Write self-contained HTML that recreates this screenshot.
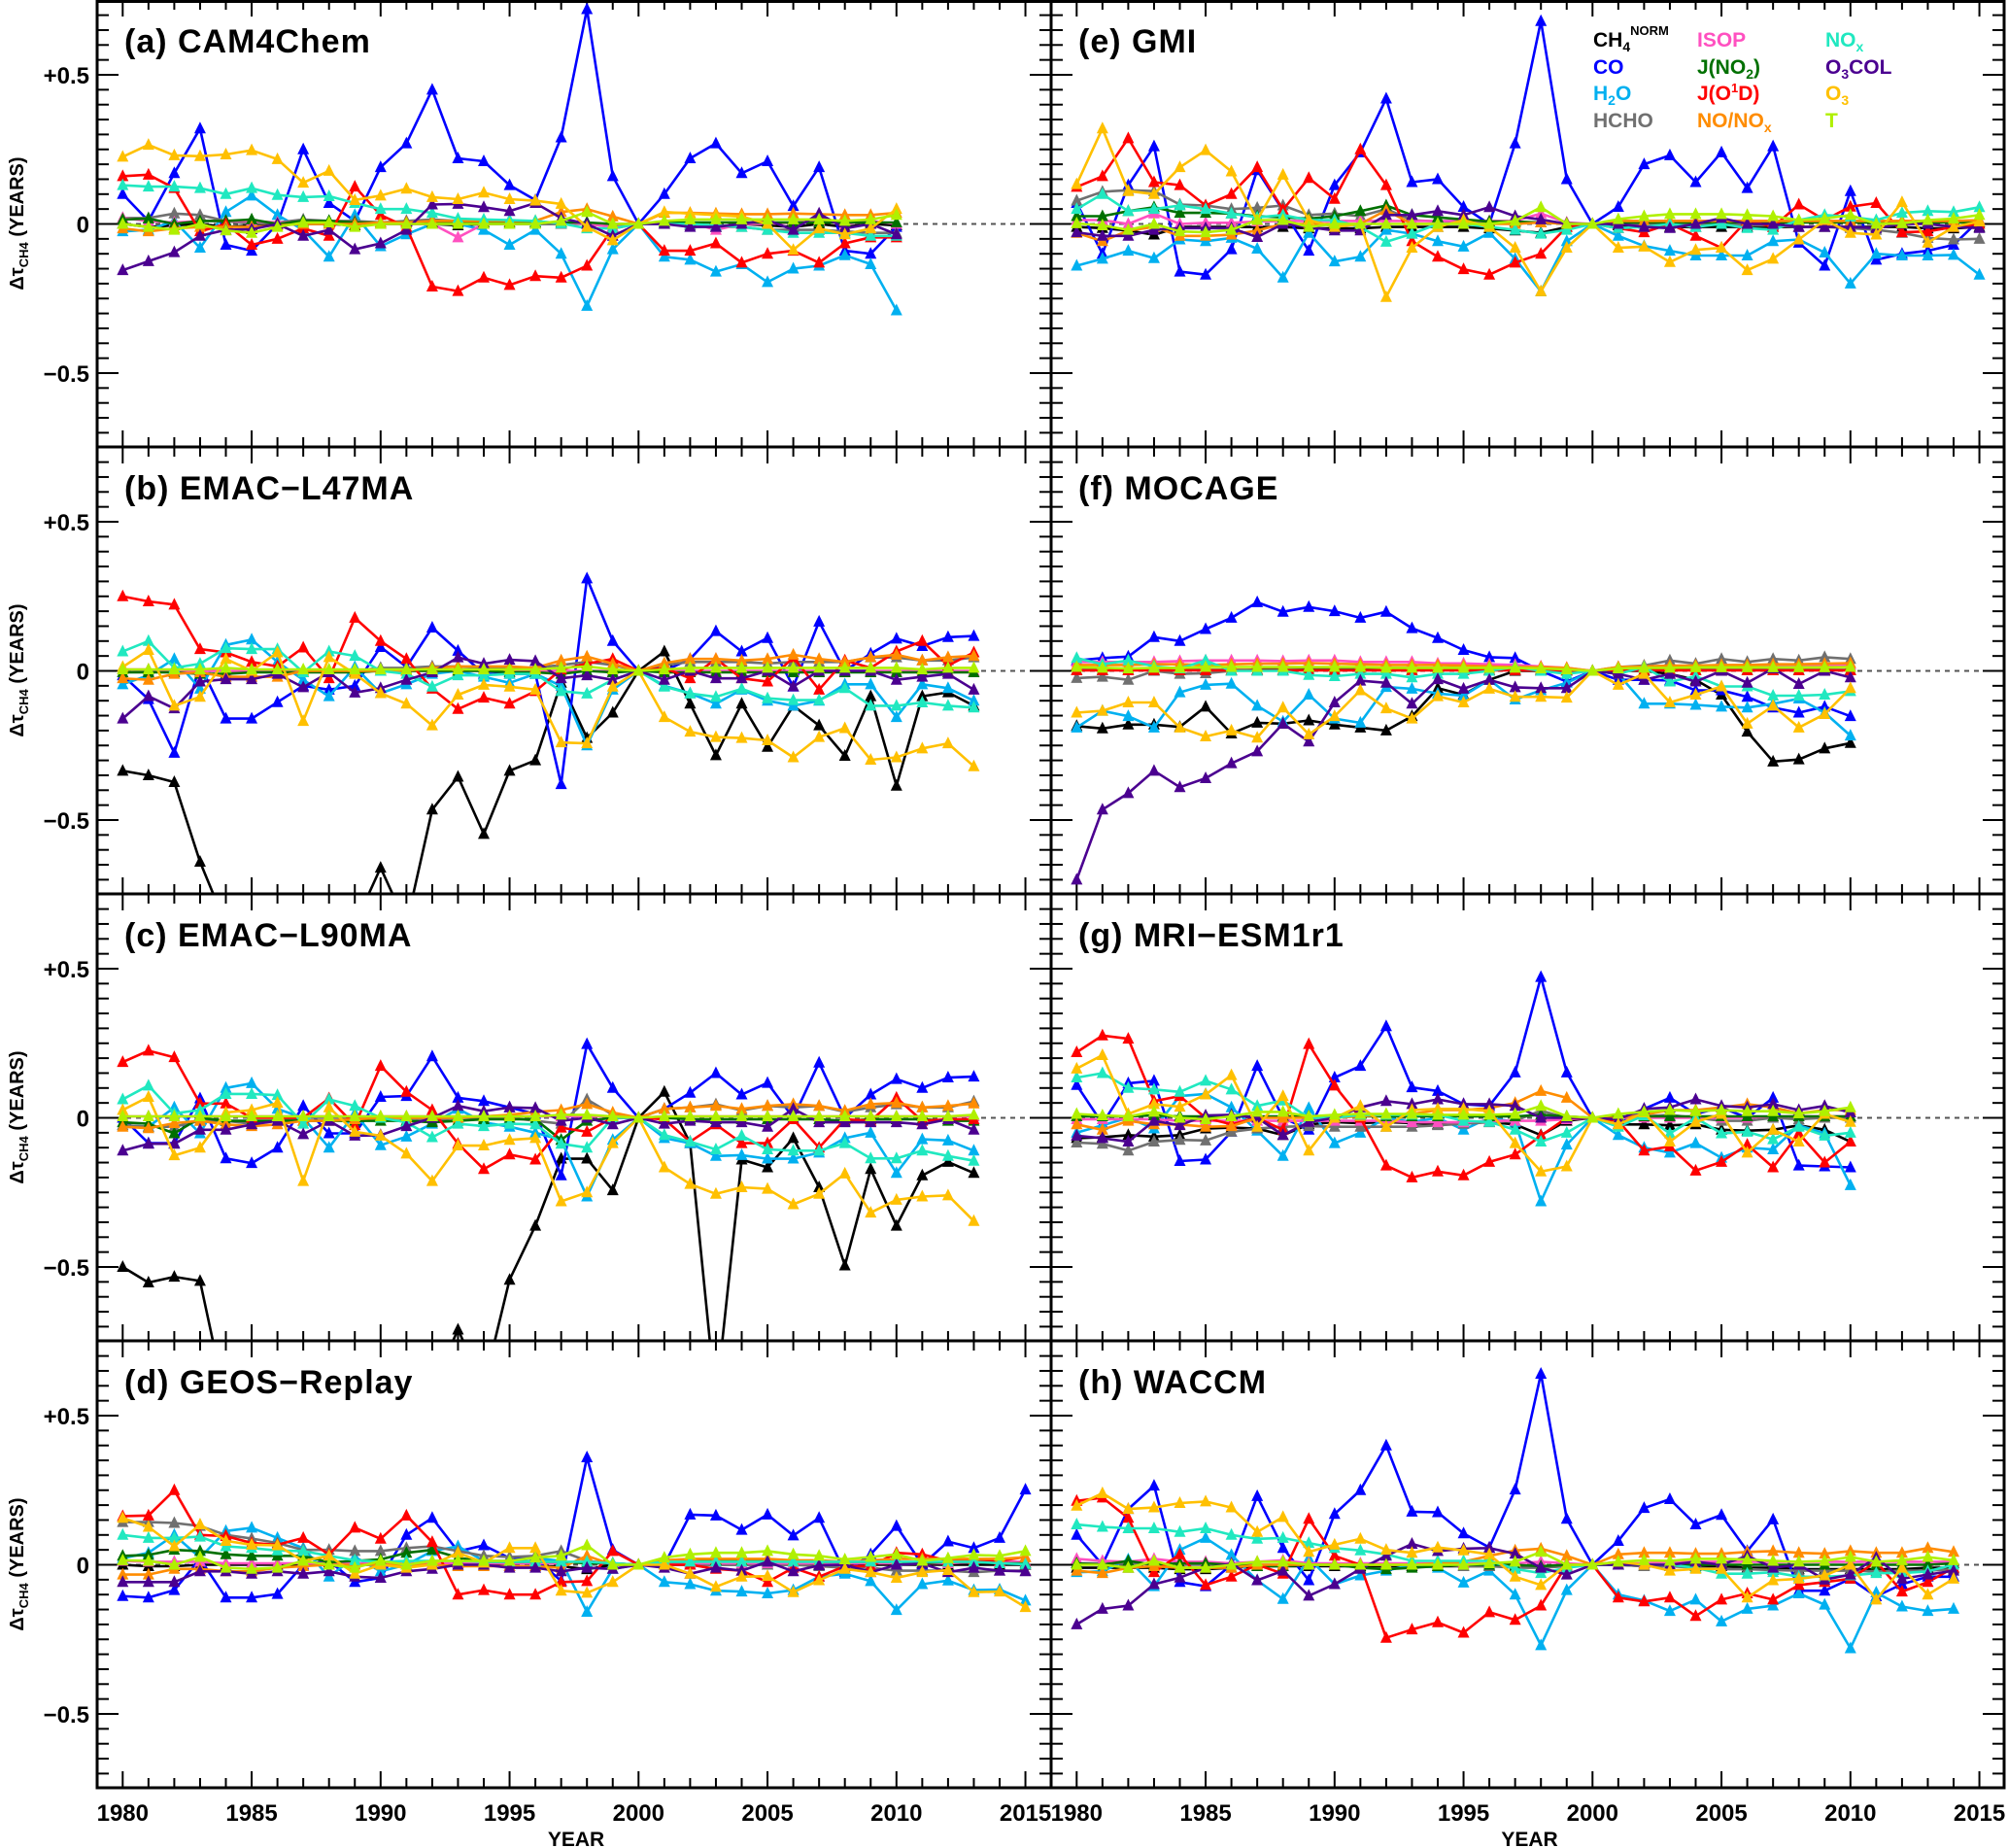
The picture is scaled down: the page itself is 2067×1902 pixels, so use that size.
<!DOCTYPE html>
<html><head><meta charset="utf-8"><title>Delta tau CH4 panels</title>
<style>
html,body{margin:0;padding:0;background:#fff;}
svg{display:block;font-family:"Liberation Sans",Arial,sans-serif;font-weight:bold;}
</style></head>
<body>
<svg id="chart" width="2067" height="1902" viewBox="0 0 2067 1902" xmlns="http://www.w3.org/2000/svg"></svg>
<script>
// ---- Panel (a) CAM4Chem 1980-2010
const a_CH4=[0,-0.01,-0.005,0,-0.01,-0.005,0,0,0,-0.005,0,0,0,-0.005,0,0,0,0,0.005,-0.01,0,0,0,-0.01,0,-0.005,-0.01,0,-0.01,0,-0.005];
const a_CO=[0.10,0.01,0.17,0.32,-0.07,-0.09,0,0.25,0.07,0.01,0.19,0.27,0.45,0.22,0.21,0.13,0.08,0.29,0.72,0.16,0,0.10,0.22,0.27,0.17,0.21,0.06,0.19,-0.09,-0.10,-0.01];
const a_H2O=[-0.025,-0.02,0.01,-0.08,0.04,0.095,0.03,-0.02,-0.11,0.03,-0.075,-0.035,0,0,-0.02,-0.07,-0.02,-0.10,-0.275,-0.085,0,-0.11,-0.12,-0.16,-0.135,-0.195,-0.15,-0.14,-0.105,-0.135,-0.29];
const a_HCHO=[0.02,0.02,0.035,0.03,0.01,0,0.005,0.015,0.01,0.01,0.005,0.01,0.015,0.01,0.005,0,0,0,0,-0.01,0,0,-0.005,-0.01,-0.01,-0.02,-0.02,-0.02,-0.025,-0.03,-0.03];
const a_ISOP=[0.02,0.01,0.005,0.01,0.01,0.01,0.005,0.005,0.005,0.005,0,0,0,-0.045,0,0.005,0.005,0.005,0,-0.01,0,0,0.005,-0.02,0,0,0.005,0.01,0,0.01,0];
const a_JNO2=[0.015,0.018,0,0.01,0.01,0.015,0,0.01,0.01,0.005,0.005,0.005,0.005,0.005,0.005,0.005,0.005,0.005,0.005,0,0,0.005,0.005,0.005,0.005,0.005,0.005,0.005,0.005,0.005,0.005];
const a_JO1D=[0.16,0.165,0.12,-0.025,0,-0.07,-0.05,-0.015,-0.04,0.125,0.03,-0.01,-0.21,-0.225,-0.18,-0.205,-0.175,-0.18,-0.14,-0.015,0,-0.09,-0.09,-0.065,-0.13,-0.10,-0.09,-0.13,-0.065,-0.045,-0.045];
const a_NONOx=[-0.015,-0.025,-0.015,-0.01,-0.01,-0.01,-0.005,0,0,0,0.005,0.005,0.01,0.01,0.01,0.01,0.01,0.04,0.05,0.025,0,0.037,0.037,0.035,0.033,0.033,0.035,0.033,0.03,0.03,0.037];
const a_NOx=[0.13,0.125,0.125,0.12,0.10,0.12,0.097,0.09,0.093,0.07,0.05,0.05,0.037,0.018,0.015,0.013,0.01,0.002,-0.015,-0.015,0,0,0,-0.005,-0.01,-0.02,-0.03,-0.03,-0.03,-0.04,-0.04];
const a_O3COL=[-0.155,-0.125,-0.095,-0.04,-0.02,-0.018,0,-0.04,-0.02,-0.085,-0.065,-0.02,0.065,0.067,0.056,0.043,0.07,0.02,0,-0.04,0,0,-0.01,-0.01,0,0.013,-0.02,0.035,-0.015,0,-0.035];
const a_O3=[0.225,0.265,0.23,0.227,0.233,0.247,0.217,0.138,0.178,0.08,0.095,0.118,0.09,0.083,0.105,0.083,0.078,0.067,-0.01,-0.055,0,0.04,0.035,0.03,0.025,0,-0.087,-0.015,-0.035,-0.015,0.05];
const a_T=[0,-0.01,-0.02,0,-0.022,-0.03,-0.01,0.005,0.005,-0.01,0,0,0,0,0,0,0,0.01,0.04,0,0,0.01,0.015,0.015,0.015,0.015,0.015,0.015,0.01,0.015,0.03];
// ---- Panel (b) EMAC-L47MA 1980-2013
const b_CH4=[-0.335,-0.35,-0.373,-0.64,-0.85,-0.95,-1.0,-1.0,-0.95,-0.85,-0.66,-0.85,-0.465,-0.355,-0.547,-0.335,-0.30,-0.04,-0.225,-0.14,0,0.065,-0.11,-0.283,-0.11,-0.255,-0.117,-0.183,-0.285,-0.085,-0.385,-0.085,-0.072,-0.117];
const b_CO=[-0.015,-0.095,-0.275,0.02,-0.16,-0.16,-0.105,-0.05,-0.063,-0.05,0.08,0.013,0.145,0.067,-0.01,-0.01,-0.01,-0.38,0.31,0.10,0,0,0.04,0.133,0.065,0.11,-0.053,0.165,0,0.058,0.108,0.083,0.113,0.117];
const b_H2O=[-0.045,-0.015,0.04,-0.06,0.087,0.105,0.03,-0.03,-0.085,0.013,-0.075,-0.045,-0.01,0,-0.02,-0.04,-0.01,-0.05,-0.25,-0.063,0,-0.05,-0.075,-0.11,-0.063,-0.10,-0.117,-0.10,-0.045,-0.045,-0.155,-0.045,-0.058,-0.10];
const b_HCHO=[0.005,0,0,0,0,-0.005,0,0,0,0,0.01,0.01,0.015,0.015,0.01,0.01,0.01,0.02,0.03,0.02,0,0.02,0.03,0.03,0.03,0.025,0.03,0.03,0.03,0.045,0.045,0.035,0.035,0.045];
const b_ISOP=[0.005,0.005,0,0,0,0,0,0,0,0,0,0,0,0,0,0,0,0,0,0,0,0,0,0,0,0,0,0,0,0,0,0,0,0];
const b_JNO2=[-0.005,-0.005,-0.005,-0.01,-0.01,-0.005,-0.005,-0.005,-0.005,-0.005,0,0,0,0,0,-0.005,-0.005,-0.01,0,-0.005,0,-0.005,-0.005,-0.005,-0.005,-0.005,-0.005,-0.005,-0.005,-0.005,-0.005,-0.005,-0.005,-0.005];
const b_JO1D=[0.25,0.233,0.222,0.073,0.062,0.03,0.015,0.078,-0.025,0.178,0.10,0.04,-0.06,-0.128,-0.09,-0.11,-0.068,0.005,0.024,0.04,0,0.01,-0.025,0.04,-0.025,-0.036,0.045,-0.063,0.035,0.01,0.065,0.10,0.018,0.062];
const b_NONOx=[-0.025,-0.03,-0.01,-0.005,-0.02,-0.02,-0.02,0,0,0,0,0,0.01,0.015,0.015,0.015,0.01,0.035,0.048,0.024,0,0.026,0.04,0.04,0.035,0.04,0.054,0.04,0.03,0.046,0.054,0.035,0.046,0.05];
const b_NOx=[0.065,0.10,0.01,0.024,0.076,0.073,0.073,-0.005,0.065,0.05,0,-0.01,-0.053,-0.015,-0.015,-0.01,-0.01,-0.068,-0.076,-0.03,0,-0.053,-0.076,-0.087,-0.06,-0.092,-0.098,-0.098,-0.058,-0.117,-0.117,-0.106,-0.117,-0.123];
const b_O3COL=[-0.16,-0.085,-0.126,-0.036,-0.028,-0.028,-0.01,-0.055,-0.005,-0.073,-0.058,-0.03,-0.005,0.045,0.024,0.037,0.033,-0.025,-0.015,-0.03,0,-0.03,0,-0.025,-0.025,0,-0.052,0,0,0,-0.03,-0.02,-0.01,-0.063];
const b_O3=[0.013,0.07,-0.117,-0.087,0.04,0,0.062,-0.168,0.046,-0.01,-0.075,-0.11,-0.183,-0.08,-0.047,-0.053,-0.063,-0.24,-0.243,-0.053,0,-0.155,-0.204,-0.222,-0.225,-0.233,-0.29,-0.222,-0.192,-0.298,-0.29,-0.26,-0.243,-0.32];
const b_T=[0.005,0.005,0.005,0.005,0.01,0.005,0.005,0.005,0.005,0.005,0.005,0.005,0.005,0.005,0.005,0.005,0.005,0.01,0.015,0.005,0,0.005,0.01,0.01,0.01,0.01,0.01,0.01,0.01,0.01,0.01,0.005,0.01,0.01];
// ---- Panel (c) EMAC-L90MA 1980-2013
const c_CH4=[-0.50,-0.552,-0.533,-0.547,-0.95,-1.0,-1.0,-1.0,-1.0,-1.0,-1.0,-1.0,-0.9,-0.71,-0.9,-0.543,-0.362,-0.137,-0.137,-0.243,0,0.087,-0.085,-0.95,-0.14,-0.166,-0.068,-0.233,-0.495,-0.172,-0.362,-0.193,-0.148,-0.185];
const c_CO=[0,-0.085,-0.085,0.065,-0.136,-0.152,-0.10,0.04,-0.052,-0.052,0.07,0.073,0.206,0.067,0.056,0.035,0.013,-0.193,0.247,0.10,0,0.03,0.084,0.15,0.078,0.117,0,0.185,0,0.078,0.13,0.10,0.135,0.138];
const c_H2O=[-0.025,-0.03,0.035,-0.052,0.10,0.116,0.03,0,-0.10,0.015,-0.092,-0.063,-0.02,0.03,-0.015,-0.03,-0.05,-0.074,-0.264,-0.074,0,-0.068,-0.085,-0.128,-0.125,-0.137,-0.137,-0.117,-0.068,-0.05,-0.185,-0.072,-0.076,-0.11];
const c_HCHO=[-0.025,-0.03,-0.03,-0.01,-0.01,-0.02,-0.01,0,0,0,0,0,-0.01,0,0,0,-0.01,-0.02,0.062,0.01,0,0.03,0.035,0.045,0.025,0.04,0.035,0.04,0.02,0.035,0.045,0.035,0.035,0.055];
const c_ISOP=[0.005,0.005,0.005,0.005,0.005,0.005,0.005,0.005,0.005,0.005,0.005,0.005,0.005,0.005,0.005,0.005,0.005,0.005,0.005,0.005,0,0.005,0.005,0.005,0.005,0.005,0.005,0.005,0.005,0.005,0.005,0.005,0.005,0.005];
const c_JNO2=[-0.015,-0.02,-0.052,0,-0.01,-0.01,-0.01,-0.01,-0.01,-0.01,-0.01,-0.01,-0.015,-0.01,-0.005,-0.005,-0.005,-0.074,-0.01,0,0,0,-0.005,-0.005,-0.005,-0.005,-0.005,-0.005,-0.01,-0.005,-0.005,-0.005,-0.01,-0.01];
const c_JO1D=[0.187,0.225,0.203,0.048,0.048,0,0,0,0.065,-0.025,0.174,0.087,0.026,-0.087,-0.172,-0.123,-0.14,-0.033,-0.047,0,0,-0.005,-0.08,-0.022,-0.085,-0.085,-0.005,-0.10,-0.005,-0.01,0.067,-0.01,-0.005,-0.005];
const c_NONOx=[-0.03,-0.035,-0.018,-0.01,-0.022,-0.028,-0.022,-0.01,-0.01,-0.005,0,0,0,0,0.005,0.01,0.02,0.026,0.046,0.018,0,0.03,0.035,0.04,0.03,0.04,0.046,0.04,0.024,0.046,0.05,0.035,0.04,0.048];
const c_NOx=[0.062,0.108,0.015,0.026,0.08,0.08,0.076,-0.02,0.062,0.04,0,-0.015,-0.065,-0.02,-0.028,-0.02,-0.022,-0.087,-0.10,0,0,-0.058,-0.08,-0.106,-0.06,-0.106,-0.11,-0.11,-0.085,-0.136,-0.136,-0.11,-0.128,-0.144];
const c_O3COL=[-0.11,-0.087,-0.087,-0.04,-0.04,-0.022,-0.01,-0.055,-0.01,-0.06,-0.058,-0.028,0,0.04,0.022,0.035,0.033,-0.01,0,-0.022,0,-0.02,-0.01,-0.015,-0.015,-0.03,0.03,-0.015,-0.015,-0.015,-0.015,-0.022,-0.005,-0.04];
const c_O3=[0.026,0.07,-0.126,-0.10,0.018,0.026,0.05,-0.212,0.035,-0.047,-0.06,-0.12,-0.212,-0.093,-0.093,-0.074,-0.068,-0.28,-0.25,-0.085,0,-0.166,-0.222,-0.255,-0.233,-0.238,-0.29,-0.255,-0.187,-0.318,-0.275,-0.264,-0.26,-0.346];
const c_T=[0.005,0.005,0.005,0.005,0.005,0.005,0.005,0.005,0.005,0.005,0.005,0.005,0.005,0.005,0.005,0.005,0.005,0.01,0.01,0.005,0,0.005,0.005,0.005,0.005,0.005,0.005,0.005,0.005,0.005,0.005,0.005,0.005,0.01];
// ---- Panel (d) GEOS-Replay 1980-2015
const d_CH4=[0,-0.005,-0.005,0,0,0,0,0,0,0,0,0,0,0.005,0,-0.005,-0.005,-0.005,-0.015,0,0,0,0,0,0,0,0,0,0,0,0,0,0,0,0,0];
const d_CO=[-0.105,-0.11,-0.085,0.02,-0.11,-0.11,-0.098,0,0.013,-0.058,-0.044,0.10,0.157,0.045,0.065,0.022,0.022,-0.054,0.36,0.05,0,0,0.168,0.165,0.117,0.168,0.098,0.157,-0.025,0.035,0.13,0,0.078,0.056,0.09,0.252];
const d_H2O=[0.022,0.04,0.10,0.024,0.113,0.124,0.09,0.056,-0.04,0.026,-0.022,0,0.046,0.062,0.013,0.013,0.022,0.013,-0.158,-0.014,0,-0.058,-0.065,-0.087,-0.09,-0.096,-0.085,-0.04,-0.03,-0.055,-0.152,-0.065,-0.053,-0.085,-0.083,-0.12];
const d_HCHO=[0.143,0.143,0.14,0.13,0.10,0.088,0.073,0.05,0.05,0.046,0.046,0.056,0.062,0.046,0.03,0.026,0.03,0.046,0.013,0.004,0,0,0,0,0,0,0,-0.005,-0.01,-0.01,-0.02,-0.02,-0.02,-0.025,-0.02,-0.02];
const d_ISOP=[0.013,0.01,0.01,0.01,0.005,0.005,0.005,0.005,0.005,0.005,0.005,0.005,0.005,0.005,0.005,0.005,0.005,0.005,0.01,0.005,0,0.005,0.005,0.005,0.005,0.005,0.005,0.005,0.005,0.005,0.005,0.005,0.005,0.01,0.01,0.01];
const d_JNO2=[0.03,0.033,0.05,0.046,0.035,0.03,0.03,0.03,0.008,0.013,0.018,0.04,0.05,0.024,0.01,0.01,0.01,0.01,0.005,0.005,0,0.01,0.01,0.015,0.015,0.015,0.015,0.01,0.01,0.01,0.01,0.005,0.01,0.01,0.005,0.005];
const d_JO1D=[0.163,0.165,0.25,0.10,0.096,0.073,0.067,0.09,0.035,0.124,0.087,0.165,0.076,-0.10,-0.085,-0.10,-0.10,-0.058,-0.055,0.046,0,0,0,-0.014,-0.02,-0.058,-0.01,-0.04,-0.005,-0.005,0.04,0.035,0.013,0.018,0.013,0.026];
const d_NONOx=[-0.033,-0.033,-0.014,-0.014,-0.022,-0.022,-0.01,-0.005,0,0,0,0,0,-0.005,-0.005,-0.005,-0.005,-0.01,0.03,0,0,0.015,0.02,0.02,0.02,0.02,0.015,0.015,0.01,0.015,0.02,0.02,0.02,0.02,0.02,0.025];
const d_NOx=[0.10,0.09,0.09,0.094,0.062,0.056,0.048,0.046,0.03,0.015,0.01,0.013,0.013,0.013,0.01,0.01,0.01,0.01,0.01,0.005,0,0.01,0.01,0.01,0.01,0.01,0.01,0.01,0.01,0.01,0.01,0.01,0.01,0.01,0.005,0.002];
const d_O3COL=[-0.058,-0.058,-0.058,-0.022,-0.022,-0.03,-0.022,-0.03,-0.022,-0.04,-0.044,-0.022,-0.014,0,0,-0.01,-0.01,-0.022,-0.01,-0.014,0,-0.01,-0.03,-0.01,-0.02,0.01,-0.022,-0.002,0,-0.025,0,0.004,-0.025,-0.01,-0.02,-0.022];
const d_O3=[0.157,0.127,0.062,0.135,0.08,0.067,0.065,0.013,0.03,-0.03,0,-0.01,0,0.04,0.007,0.056,0.056,-0.087,-0.094,-0.058,0,0,-0.03,-0.074,-0.04,-0.038,-0.092,-0.052,-0.014,-0.025,-0.044,-0.025,-0.018,-0.092,-0.09,-0.142];
const d_T=[0.015,0.013,0,0.026,-0.01,-0.014,-0.01,0.013,0,-0.01,0.013,0,0.013,0.013,0.013,0.013,0.024,0.03,0.065,0,0,0.024,0.035,0.04,0.04,0.046,0.035,0.03,0.018,0.026,0.035,0.013,0.022,0.033,0.03,0.046];
// ---- Panel (e) GMI 1980-2015
const e_CH4=[-0.01,-0.014,-0.022,-0.036,-0.01,-0.01,-0.01,-0.01,-0.01,-0.015,-0.015,-0.015,-0.01,-0.01,-0.01,-0.01,-0.015,-0.022,-0.03,-0.01,0,-0.005,-0.01,-0.01,-0.01,-0.01,-0.01,-0.01,-0.01,-0.01,-0.01,-0.01,-0.01,-0.015,-0.015,-0.01];
const e_CO=[0.07,-0.10,0.13,0.26,-0.16,-0.17,-0.085,0.18,0.045,-0.09,0.13,0.24,0.42,0.14,0.15,0.057,0,0.27,0.68,0.15,0,0.057,0.20,0.23,0.14,0.24,0.12,0.26,-0.063,-0.14,0.11,-0.12,-0.10,-0.09,-0.07,0.013];
const e_H2O=[-0.14,-0.117,-0.09,-0.115,-0.052,-0.058,-0.047,-0.083,-0.18,-0.03,-0.126,-0.11,-0.02,-0.033,-0.058,-0.076,-0.03,-0.117,-0.226,-0.058,0,-0.04,-0.074,-0.09,-0.106,-0.106,-0.106,-0.058,-0.052,-0.096,-0.2,-0.10,-0.106,-0.106,-0.104,-0.17];
const e_HCHO=[0.078,0.108,0.113,0.11,0.065,0.062,0.05,0.054,0.062,0.03,0.035,0.026,0.05,0.013,0.008,0.005,0.005,0.005,0.005,0,0,0,0,0,0,0,-0.005,-0.005,-0.01,-0.01,-0.014,-0.02,-0.03,-0.047,-0.052,-0.05];
const e_ISOP=[0.013,0.013,0,0.035,0,0.004,0.004,0.008,0.01,0.01,0.01,0.01,0.01,0.01,0.01,0.01,0.01,0.01,0.035,0.005,0,0.01,0.01,0.01,0.01,0.01,0.01,0.01,0.01,0.01,0.01,0.01,0.01,0.01,0.01,0.01];
const e_JNO2=[0.026,0.026,0.043,0.056,0.037,0.037,0.035,0.026,0.022,0.018,0.026,0.043,0.062,0.03,0.022,0.015,0.008,0.008,0.005,0.002,0,0.005,0.005,0.005,0.005,0.005,0.005,0.005,0.005,0.005,0.005,0.005,0.005,0.005,0.005,0.005];
const e_JO1D=[0.124,0.16,0.287,0.14,0.13,0.062,0.10,0.19,0.048,0.154,0.084,0.25,0.13,-0.058,-0.11,-0.152,-0.17,-0.13,-0.10,-0.01,0,-0.014,-0.028,0,-0.04,-0.08,0.013,-0.01,0.065,0.013,0.058,0.07,-0.028,-0.025,-0.01,0];
const e_NONOx=[-0.03,-0.058,-0.022,-0.01,-0.04,-0.04,-0.036,-0.022,0,0,0,0,0.046,0,0,0,0,0,0.005,0,0,0.01,0.01,0.01,0.01,0.01,0.01,0.01,0.01,0.01,0.01,0.01,0.01,0.01,0.01,0.013];
const e_NOx=[0.05,0.10,0.043,0.05,0.062,0.05,0.035,0.022,0.03,0.013,0.013,-0.01,-0.06,-0.033,0,0,-0.01,-0.02,-0.033,-0.02,0,-0.014,-0.01,0,-0.01,0,-0.014,-0.02,0.013,0.03,0.024,0.013,0.037,0.043,0.04,0.056];
const e_O3COL=[-0.028,-0.04,-0.04,-0.02,-0.014,-0.014,-0.014,-0.044,0,-0.01,-0.022,-0.022,0.03,0.03,0.043,0.03,0.056,0.026,0.015,0,0,0,-0.01,-0.014,0,0.02,0,0,-0.01,-0.01,-0.01,-0.014,0,0,-0.01,-0.014];
const e_O3=[0.133,0.32,0.11,0.10,0.19,0.247,0.176,0.013,0.165,0.013,-0.01,0,-0.245,-0.08,-0.01,0.013,-0.01,-0.08,-0.226,-0.08,0,-0.08,-0.076,-0.128,-0.087,-0.08,-0.155,-0.117,-0.052,0.013,-0.03,-0.036,0.073,-0.063,-0.01,0.008];
const e_T=[0.002,-0.005,-0.02,0,-0.025,-0.028,-0.02,0.013,0.013,-0.01,0,0,0,0,0,0,0,0.01,0.056,0,0,0.016,0.026,0.033,0.033,0.033,0.03,0.026,0.013,0.018,0.03,0,0.002,0.013,0.018,0.03];
// ---- Panel (f) MOCAGE 1980-2010
const f_CH4=[-0.185,-0.193,-0.18,-0.18,-0.188,-0.12,-0.21,-0.174,-0.177,-0.166,-0.18,-0.19,-0.20,-0.152,-0.058,-0.08,-0.03,0,0,0,0,0,0,-0.01,-0.03,-0.08,-0.204,-0.304,-0.297,-0.26,-0.242];
const f_CO=[0.035,0.043,0.048,0.113,0.10,0.14,0.178,0.23,0.198,0.214,0.20,0.178,0.198,0.143,0.11,0.07,0.046,0.043,0,-0.036,0,-0.03,-0.03,-0.032,-0.065,-0.065,-0.087,-0.123,-0.14,-0.12,-0.152];
const f_H2O=[-0.19,-0.134,-0.152,-0.19,-0.072,-0.047,-0.043,-0.117,-0.17,-0.08,-0.16,-0.174,-0.054,-0.06,-0.076,-0.083,-0.03,-0.096,-0.065,-0.04,0,-0.01,-0.11,-0.11,-0.114,-0.12,-0.123,-0.11,-0.093,-0.14,-0.217];
const f_HCHO=[-0.024,-0.02,-0.03,0,-0.01,-0.008,0,0.004,0.013,0.01,0.01,0.01,0.01,0.01,0.01,0.01,0.01,0.005,0.005,0,0,0.013,0.018,0.035,0.024,0.04,0.03,0.04,0.035,0.046,0.04];
const f_ISOP=[0.03,0.03,0.03,0.03,0.033,0.035,0.035,0.035,0.033,0.035,0.035,0.03,0.03,0.03,0.025,0.025,0.022,0.02,0.015,0.01,0,0.01,0.01,0.015,0.015,0.015,0.015,0.015,0.015,0.018,0.02];
const f_JNO2=[0.003,0.003,0.003,0.003,0.003,0.003,0.003,0.003,0.003,0.003,0.003,0.003,0.003,0.003,0.003,0.003,0.003,0.003,0.003,0.003,0,0.003,0.003,0.003,0.003,0.003,0.003,0.003,0.003,0.003,0.003];
const f_JO1D=[0.002,0.002,0.002,0.002,0.002,0.002,0.002,0.002,0.002,0.002,0.002,0.002,0.002,0.002,0.002,0.002,0.002,0.002,0.002,0.002,0,0.002,0.002,0.002,0.002,0.002,0.002,0.002,0.002,0.002,0.002];
const f_NONOx=[0.02,0.02,0.02,0.022,0.022,0.02,0.022,0.024,0.024,0.026,0.024,0.022,0.02,0.02,0.02,0.018,0.015,0.013,0.013,0.01,0,0.013,0.015,0.018,0.018,0.02,0.02,0.022,0.022,0.024,0.026];
const f_NOx=[0.043,0.022,0.035,0.015,0.008,0.035,0,0,0,-0.014,-0.018,-0.01,-0.01,-0.022,-0.01,-0.01,0,0.013,0,-0.01,0,-0.01,0.013,-0.036,-0.018,-0.052,-0.052,-0.083,-0.083,-0.08,-0.068];
const f_O3COL=[-0.70,-0.465,-0.41,-0.335,-0.39,-0.36,-0.31,-0.27,-0.177,-0.237,-0.106,-0.033,-0.04,-0.11,-0.028,-0.06,-0.03,-0.055,-0.058,-0.058,0,-0.01,-0.03,-0.01,-0.036,0,-0.04,0.008,-0.044,0,-0.022];
const f_O3=[-0.14,-0.134,-0.106,-0.106,-0.19,-0.22,-0.20,-0.224,-0.123,-0.213,-0.152,-0.065,-0.126,-0.16,-0.085,-0.106,-0.06,-0.087,-0.087,-0.09,0,-0.047,-0.01,-0.106,-0.08,-0.052,-0.177,-0.117,-0.19,-0.145,-0.058];
const f_T=[0.013,0.01,0.008,0.01,0.01,0.013,0.013,0.013,0.013,0.013,0.013,0.013,0.01,0.01,0.01,0.01,0.01,0.01,0.008,0.005,0,0.008,0.01,0.01,0.012,0.012,0.012,0.012,0.012,0.012,0.013];
// ---- Panel (g) MRI-ESM1r1 1980-2010
const g_CH4=[-0.068,-0.065,-0.058,-0.063,-0.058,-0.036,-0.033,-0.036,-0.058,-0.022,-0.014,-0.018,-0.014,-0.018,-0.022,-0.014,-0.014,-0.022,-0.058,-0.01,0,-0.022,-0.022,-0.025,-0.022,-0.04,-0.043,-0.04,-0.025,-0.04,-0.08];
const g_CO=[0.11,-0.02,0.116,0.124,-0.145,-0.14,-0.047,0.174,0,-0.04,0.135,0.174,0.307,0.102,0.09,0.046,0.04,0.152,0.472,0.152,0,-0.022,0.03,0.067,0.013,0.035,0,0.067,-0.16,-0.163,-0.166];
const g_H2O=[-0.05,-0.025,0,-0.036,0.073,0.08,0.035,-0.043,-0.128,0.033,-0.085,-0.05,0,-0.014,0,-0.04,0,-0.014,-0.28,-0.09,0,-0.058,-0.10,-0.117,-0.085,-0.134,-0.10,-0.106,-0.025,-0.052,-0.226];
const g_HCHO=[-0.083,-0.087,-0.11,-0.08,-0.074,-0.076,-0.047,-0.036,-0.03,-0.028,-0.03,-0.03,-0.03,-0.03,-0.025,-0.02,-0.015,-0.01,0.024,0,0,0,0.005,0.01,0,-0.01,-0.01,0,-0.005,0,0];
const g_ISOP=[-0.005,-0.005,-0.005,-0.005,-0.01,-0.01,-0.01,-0.01,-0.01,-0.01,-0.01,-0.01,-0.01,-0.015,-0.015,-0.015,-0.01,-0.01,-0.01,-0.005,0,0,0,0,0,0,0,0.005,0.005,0.005,0.005];
const g_JNO2=[0.005,0.005,0.005,0.008,0.005,0.005,0.005,0.005,0.005,0.005,0.005,0.005,0.005,0.005,0.005,0.005,0.005,0.005,0.01,0.005,0,0.005,0.005,0.005,0.005,0.005,0.005,0.005,0.005,0.005,0.005];
const g_JO1D=[0.22,0.276,0.265,0.056,0.073,0,-0.022,0,-0.04,0.247,0.108,0,-0.16,-0.2,-0.18,-0.193,-0.148,-0.123,-0.06,0,0,-0.01,-0.11,-0.096,-0.177,-0.148,-0.09,-0.166,-0.052,-0.15,-0.08];
const g_NONOx=[-0.022,-0.04,-0.01,-0.022,-0.022,-0.03,-0.028,0,0,0,0,0.005,0.01,0.013,0.026,0.026,0.033,0.05,0.09,0.067,0,0,0.01,0.026,0.026,0.035,0.046,0.035,0.015,0.026,0.026];
const g_NOx=[0.135,0.15,0.10,0.095,0.087,0.124,0.095,0.04,0.058,0,0,0.01,0.01,0.01,0.01,-0.01,-0.014,-0.04,-0.08,-0.05,0,-0.03,0.008,-0.052,0,-0.052,-0.047,-0.072,-0.03,-0.06,-0.05];
const g_O3COL=[-0.06,-0.068,-0.08,-0.01,-0.025,0.008,0.01,0,-0.058,-0.014,0,0.035,0.056,0.046,0.062,0.046,0.046,0.04,0,0,0,-0.005,0.03,0.035,0.062,0.04,0.035,0.046,0.026,0.04,0.018];
const g_O3=[0.165,0.21,0.013,0.046,0.037,0.078,0.143,-0.03,0.073,-0.11,0,0.04,-0.03,0.026,0.03,0.03,0.022,-0.085,-0.18,-0.163,0,-0.022,0.018,-0.08,-0.014,0.013,-0.117,-0.04,-0.08,0.013,-0.014];
const g_T=[0.013,0.008,0.005,0.02,0,-0.005,0.005,0.02,0.02,0.005,0.01,0.013,0.013,0.013,0.01,0.01,0.01,0.013,0.04,0.005,0,0.013,0.02,0.026,0.022,0.026,0.022,0.022,0.015,0.022,0.035];
// ---- Panel (h) WACCM 1980-2014
const h_CH4=[-0.01,-0.01,-0.01,-0.01,-0.015,-0.015,-0.01,-0.005,-0.005,-0.005,-0.005,-0.005,-0.005,-0.005,-0.005,-0.005,-0.005,-0.005,-0.005,0,0,0,-0.005,-0.005,-0.005,-0.005,-0.01,-0.01,-0.015,-0.015,-0.015,-0.015,-0.015,-0.01,-0.01];
const h_CO=[0.10,0,0.187,0.265,-0.058,-0.072,0,0.23,0.056,-0.052,0.17,0.25,0.40,0.178,0.176,0.105,0.058,0.252,0.64,0.154,0,0.08,0.19,0.22,0.135,0.167,0.046,0.152,-0.087,-0.087,-0.047,-0.106,-0.065,-0.04,-0.04];
const h_H2O=[-0.025,-0.022,0.018,-0.072,0.05,0.09,0.033,-0.052,-0.115,0.022,-0.065,-0.036,-0.02,0,-0.01,-0.06,-0.02,-0.10,-0.27,-0.085,0,-0.10,-0.12,-0.155,-0.117,-0.19,-0.148,-0.137,-0.096,-0.134,-0.28,-0.093,-0.14,-0.155,-0.148];
const h_HCHO=[0.005,0.005,0.005,0,0,0,0,0,0,0,0,0,0,0,0,-0.005,-0.005,-0.01,-0.01,-0.005,0,0,-0.005,-0.005,-0.01,-0.015,-0.015,-0.018,-0.02,-0.02,-0.02,-0.022,-0.02,-0.02,-0.015];
const h_ISOP=[0.02,0.013,0.01,0.02,0.01,0.01,0.005,0.01,0.015,0.005,0.005,0.005,0.005,0.005,0.005,0.005,0.005,0.005,0.01,0.005,0,0.005,0.005,0.01,0.01,0.01,0.01,0.01,0.01,0.01,0.01,0.01,0.01,0.01,0.01];
const h_JNO2=[0.005,0,0.013,0,0.005,0.005,0,-0.005,-0.005,0,0,-0.01,-0.015,-0.01,-0.005,0,0,0,-0.005,0,0,0,0,0,0,0,0,0,0,0,0,0,0,0,0.005];
const h_JO1D=[0.214,0.225,0.157,-0.025,0.035,-0.068,-0.04,0,-0.03,0.154,0.03,0,-0.245,-0.217,-0.193,-0.228,-0.159,-0.185,-0.137,0,0,-0.11,-0.123,-0.11,-0.172,-0.117,-0.096,-0.117,-0.068,-0.058,-0.047,0.01,-0.09,-0.058,-0.01];
const h_NONOx=[-0.02,-0.028,-0.01,-0.005,-0.01,-0.01,-0.01,0,0,0,0,0,0,0,0.005,0.01,0.03,0.048,0.054,0.03,0,0.035,0.04,0.04,0.037,0.037,0.043,0.046,0.04,0.037,0.046,0.04,0.04,0.056,0.043];
const h_NOx=[0.135,0.127,0.122,0.122,0.11,0.122,0.1,0.087,0.09,0.073,0.056,0.048,0.035,0.013,0.013,0.013,0.013,-0.014,-0.028,-0.01,0,0,0,0,-0.01,-0.03,-0.03,-0.025,-0.04,-0.04,-0.036,-0.028,-0.028,-0.022,0];
const h_O3COL=[-0.2,-0.148,-0.137,-0.065,-0.043,-0.01,0.004,-0.052,-0.02,-0.104,-0.065,-0.014,0.03,0.07,0.046,0.054,0.056,0.037,-0.01,-0.033,0,0,0,0,0.01,0,0.03,-0.01,0,-0.05,-0.033,0.024,-0.047,-0.033,-0.02];
const h_O3=[0.198,0.24,0.187,0.192,0.207,0.212,0.192,0.11,0.16,0.043,0.067,0.087,0.05,0.04,0.058,0.048,0.035,-0.04,-0.068,0,0,0.01,0,-0.02,-0.014,-0.014,-0.11,-0.052,-0.047,-0.036,0,-0.117,-0.01,-0.10,-0.047];
const h_T=[0,0,-0.01,0.013,-0.01,-0.01,0,0.01,0.01,0,0,0,0,0,0,0,0.005,0.01,0.043,0,0,0.01,0.015,0.013,0.02,0.02,0.018,0.013,0.01,0.013,0.026,0.01,0.015,0.026,0.015];

const yearTicks=[1980,1985,1990,1995,2000,2005,2010,2015];
const yTickValues=[0.5,0,-0.5];
const yTickLabels=["+0.5","0","\u22120.5"];
const firstYear=1980;

const SERIES=[
 {k:'CH4',c:'#000000'},{k:'CO',c:'#0000ff'},{k:'H2O',c:'#00b0f0'},{k:'HCHO',c:'#707070'},
 {k:'ISOP',c:'#ff50c0'},{k:'JNO2',c:'#007000'},{k:'JO1D',c:'#ff0000'},{k:'NONOx',c:'#ff8c00'},
 {k:'NOx',c:'#20e8c0'},{k:'O3COL',c:'#4b0090'},{k:'O3',c:'#ffc000'},{k:'T',c:'#b0f000'}];
const PANELS=[
 {id:'a',label:'(a) CAM4Chem',col:0,row:0,d:{CH4:a_CH4,CO:a_CO,H2O:a_H2O,HCHO:a_HCHO,ISOP:a_ISOP,JNO2:a_JNO2,JO1D:a_JO1D,NONOx:a_NONOx,NOx:a_NOx,O3COL:a_O3COL,O3:a_O3,T:a_T}},
 {id:'b',label:'(b) EMAC\u2212L47MA',col:0,row:1,d:{CH4:b_CH4,CO:b_CO,H2O:b_H2O,HCHO:b_HCHO,ISOP:b_ISOP,JNO2:b_JNO2,JO1D:b_JO1D,NONOx:b_NONOx,NOx:b_NOx,O3COL:b_O3COL,O3:b_O3,T:b_T}},
 {id:'c',label:'(c) EMAC\u2212L90MA',col:0,row:2,d:{CH4:c_CH4,CO:c_CO,H2O:c_H2O,HCHO:c_HCHO,ISOP:c_ISOP,JNO2:c_JNO2,JO1D:c_JO1D,NONOx:c_NONOx,NOx:c_NOx,O3COL:c_O3COL,O3:c_O3,T:c_T}},
 {id:'d',label:'(d) GEOS\u2212Replay',col:0,row:3,d:{CH4:d_CH4,CO:d_CO,H2O:d_H2O,HCHO:d_HCHO,ISOP:d_ISOP,JNO2:d_JNO2,JO1D:d_JO1D,NONOx:d_NONOx,NOx:d_NOx,O3COL:d_O3COL,O3:d_O3,T:d_T}},
 {id:'e',label:'(e) GMI',col:1,row:0,d:{CH4:e_CH4,CO:e_CO,H2O:e_H2O,HCHO:e_HCHO,ISOP:e_ISOP,JNO2:e_JNO2,JO1D:e_JO1D,NONOx:e_NONOx,NOx:e_NOx,O3COL:e_O3COL,O3:e_O3,T:e_T}},
 {id:'f',label:'(f) MOCAGE',col:1,row:1,d:{CH4:f_CH4,CO:f_CO,H2O:f_H2O,HCHO:f_HCHO,ISOP:f_ISOP,JNO2:f_JNO2,JO1D:f_JO1D,NONOx:f_NONOx,NOx:f_NOx,O3COL:f_O3COL,O3:f_O3,T:f_T}},
 {id:'g',label:'(g) MRI\u2212ESM1r1',col:1,row:2,d:{CH4:g_CH4,CO:g_CO,H2O:g_H2O,HCHO:g_HCHO,ISOP:g_ISOP,JNO2:g_JNO2,JO1D:g_JO1D,NONOx:g_NONOx,NOx:g_NOx,O3COL:g_O3COL,O3:g_O3,T:g_T}},
 {id:'h',label:'(h) WACCM',col:1,row:3,d:{CH4:h_CH4,CO:h_CO,H2O:h_H2O,HCHO:h_HCHO,ISOP:h_ISOP,JNO2:h_JNO2,JO1D:h_JO1D,NONOx:h_NONOx,NOx:h_NOx,O3COL:h_O3COL,O3:h_O3,T:h_T}}];

const NS='http://www.w3.org/2000/svg';
const svg=document.getElementById('chart');
function mk(tag,attrs,parent){const e=document.createElementNS(NS,tag);for(const k in attrs)e.setAttribute(k,attrs[k]);(parent||svg).appendChild(e);return e;}
const colLeft=[100,1082], colRight=[1082,2063], colX1980=[126.3,1108.3], pxYear=26.55;
const rowTop=[0,460,920,1380], rowH=460, pxUnit=307;
function xScale(col,yr){return colX1980[col]+pxYear*(yr-firstYear);}
function yScale(row,v){return rowTop[row]+230.5-v*pxUnit;}

const defs=mk('defs',{});
PANELS.forEach(p=>{
  const cp=mk('clipPath',{id:'clip-'+p.id},defs);
  mk('rect',{x:colLeft[p.col],y:rowTop[p.row],width:colRight[p.col]-colLeft[p.col],height:rowH},cp);
});

PANELS.forEach(p=>{
  const g=mk('g',{});
  
  
  const L=colLeft[p.col],R=colRight[p.col],T=rowTop[p.row],B=T+rowH;
  // zero dashed line
  const z=mk('line',{x1:L,x2:R,y1:yScale(p.row,0),y2:yScale(p.row,0),stroke:'#555',"stroke-width":2,"stroke-dasharray":"5 5"},g);
  
  
  // x ticks
  for(let yr=1980;yr<=2015;yr++){
    const x=xScale(p.col,yr), len=(yr%5===0)?17:10;
    mk('line',{x1:x,x2:x,y1:B,y2:B-len,stroke:'#000',"stroke-width":2},g);
    mk('line',{x1:x,x2:x,y1:T,y2:T+len,stroke:'#000',"stroke-width":2},g);
  }
  // y ticks
  for(let i=-15;i<=15;i++){
    const v=i*0.05, y=yScale(p.row,v), len=(i%10===0)?22:12;
    if(y<T+1||y>B-1) continue;
    mk('line',{x1:L,x2:L+len,y1:y,y2:y,stroke:'#000',"stroke-width":2},g);
    mk('line',{x1:R,x2:R-len,y1:y,y2:y,stroke:'#000',"stroke-width":2},g);
  }
  // series
  const sg=mk('g',{"clip-path":'url(#clip-'+p.id+')'},g);
  SERIES.forEach(s=>{
    const vals=p.d[s.k]; if(!vals) return;
    const pts=vals.map((v,i)=>[xScale(p.col,firstYear+i),yScale(p.row,v)]);
    const ln=mk('polyline',{points:pts.map(q=>q[0].toFixed(1)+','+q[1].toFixed(1)).join(' '),fill:'none',stroke:s.c,"stroke-width":2.6,"stroke-linejoin":'round'},sg);
    
    
    pts.forEach(q=>{
      const tri=mk('polygon',{points:(q[0]-6)+','+(q[1]+5)+' '+(q[0]+6)+','+(q[1]+5)+' '+q[0]+','+(q[1]-7),fill:s.c},sg);
      
      
    });
  });
  const t=mk('text',{x:L+28,y:T+54,"font-size":34,fill:'#000',"letter-spacing":1},g);
  t.textContent=p.label;
  
  
  // y labels and title for left column
  if(p.col===0){
    yTickValues.forEach((v,i)=>{
      const tl=mk('text',{x:92,y:yScale(p.row,v)+9,"font-size":24,"text-anchor":'end'},g);
      tl.textContent=yTickLabels[i];
      
      
    });
    const cy=T+230;
    const yt=mk('text',{x:0,y:0,"font-size":20,"text-anchor":'middle',transform:'translate(24,'+cy+') rotate(-90)'},g);
    
    
    const t1=mk('tspan',{},yt); t1.textContent='\u0394\u03c4';
    const t2=mk('tspan',{"font-size":13,dy:5},yt); t2.textContent='CH4';
    const t3=mk('tspan',{dy:-5},yt); t3.textContent='  (YEARS)';
  }
});

// frame lines
const frame=mk('g',{stroke:'#000',"stroke-width":3,fill:'none'});


mk('rect',{x:100,y:1.5,width:1963,height:1838.5},frame);
mk('line',{x1:1082,x2:1082,y1:0,y2:1840},frame);
[460,920,1380].forEach(y=>mk('line',{x1:100,x2:2063,y1:y,y2:y},frame));

// x labels
[0,1].forEach(col=>{
  yearTicks.forEach(yr=>{
    const t=mk('text',{x:xScale(col,yr),y:1874,"font-size":24,"text-anchor":'middle'});
    t.textContent=String(yr);
    
    
  });
  const xt=mk('text',{x:(colLeft[col]+colRight[col])/2+2,y:1900,"font-size":21,"text-anchor":'middle'});
  xt.textContent='YEAR';
  
  
});
</script>
<svg style="position:absolute;left:0;top:0" width="2067" height="200" font-family="Liberation Sans, Arial, sans-serif" font-weight="bold" font-size="21">
  <g>
    <text x="1640" y="48" fill="#000">CH<tspan font-size="14" dy="5">4</tspan><tspan font-size="13" dy="-17">NORM</tspan></text>
    <text x="1640" y="76" fill="#0000ff">CO</text>
    <text x="1640" y="103" fill="#00b0f0">H<tspan font-size="14" dy="5">2</tspan><tspan dy="-5">O</tspan></text>
    <text x="1640" y="131" fill="#707070">HCHO</text>
  </g>
  <g>
    <text x="1747" y="48" fill="#ff50c0">ISOP</text>
    <text x="1747" y="76" fill="#007000">J(NO<tspan font-size="14" dy="5">2</tspan><tspan dy="-5">)</tspan></text>
    <text x="1747" y="103" fill="#ff0000">J(O<tspan font-size="13" dy="-8">1</tspan><tspan dy="8">D)</tspan></text>
    <text x="1747" y="131" fill="#ff8c00">NO/NO<tspan font-size="14" dy="5">x</tspan></text>
  </g>
  <g>
    <text x="1879" y="48" fill="#20e8c0">NO<tspan font-size="14" dy="5">x</tspan></text>
    <text x="1879" y="76" fill="#4b0090">O<tspan font-size="14" dy="5">3</tspan><tspan dy="-5">COL</tspan></text>
    <text x="1879" y="103" fill="#ffc000">O<tspan font-size="14" dy="5">3</tspan></text>
    <text x="1879" y="131" fill="#b0f000">T</text>
  </g>
</svg>
</body></html>
